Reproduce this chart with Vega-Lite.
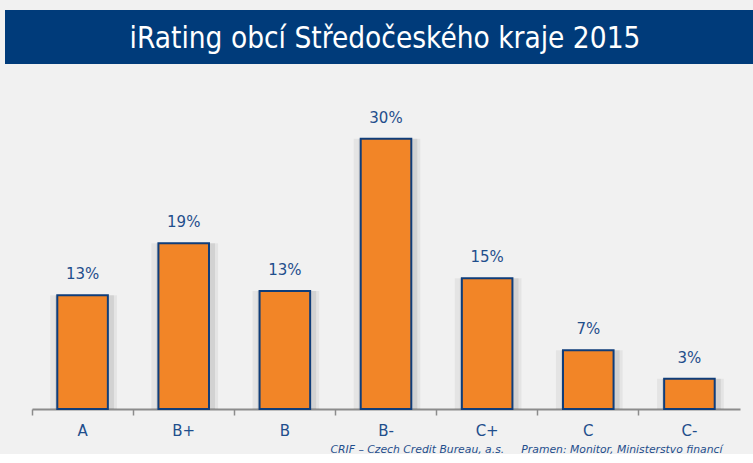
{
  "$schema": "https://vega.github.io/schema/vega-lite/v6.json",
  "padding": {"left": 5, "top": 10, "right": 0, "bottom": 0},
  "background": "#f1f1f1",
  "spacing": 0,
  "config": {"view": {"stroke": null}, "font": "DejaVu Sans"},
  "vconcat": [
    {
      "width": 748,
      "height": 54,
      "view": {"fill": "#003b7a", "stroke": null},
      "data": {"values": [{"title": "iRating obcí Středočeského kraje 2015"}]},
      "mark": {"type": "text", "color": "white", "font": "DejaVu Sans Condensed", "fontSize": 29.5, "baseline": "middle", "align": "center", "dy": 2, "dx": 6},
      "encoding": {"text": {"field": "title"}}
    },
    {
      "width": 748,
      "height": 345,
      "data": {"values": [
        {"rating": "A", "share": 0.128},
        {"rating": "B+", "share": 0.1865},
        {"rating": "B", "share": 0.1326},
        {"rating": "B-", "share": 0.304},
        {"rating": "C+", "share": 0.147},
        {"rating": "C", "share": 0.066},
        {"rating": "C-", "share": 0.034}
      ]},
      "encoding": {
        "x": {"field": "rating", "type": "nominal", "sort": null,
          "scale": {"paddingInner": 0, "paddingOuter": 0, "range": [27, 735]},
          "axis": {"title": "CRIF – Czech Credit Bureau, a.s.\u00a0\u00a0\u00a0\u00a0\u00a0Pramen: Monitor, Ministerstvo financí",
            "titleFont": "DejaVu Sans", "titleFontSize": 10.8, "titleFontStyle": "italic", "titleFontWeight": "normal",
            "titleColor": "#1f4e8c", "titleAnchor": "end", "titleAlign": "right", "titleX": 717, "titlePadding": 5,
            "labelAngle": 0, "labelFontSize": 15, "labelColor": "#1f4e8c", "labelPadding": 8,
            "domainColor": "#8c8c8c", "domainWidth": 2, "tickColor": "#8c8c8c", "tickSize": 6, "tickWidth": 1.5, "bandPosition": 0}},
        "y": {"field": "share", "type": "quantitative",
          "scale": {"domain": [0, 0.388], "nice": false},
          "axis": null}
      },
      "layer": [
        {"mark": {"type": "bar", "color": "#000000", "opacity": 0.05, "width": {"band": 0.66}, "xOffset": 1}},
        {"mark": {"type": "bar", "color": "#000000", "opacity": 0.08, "width": {"band": 0.58}, "xOffset": 2}},
        {"mark": {"type": "bar", "color": "#f28527", "stroke": "#0f3d7a", "strokeWidth": 2, "width": {"band": 0.5}}},
        {"mark": {"type": "text", "baseline": "bottom", "dy": -13, "fontSize": 15, "color": "#1f4e8c"},
          "encoding": {"text": {"field": "share", "type": "quantitative", "format": ".0%"}}}
      ]
    }
  ]
}
